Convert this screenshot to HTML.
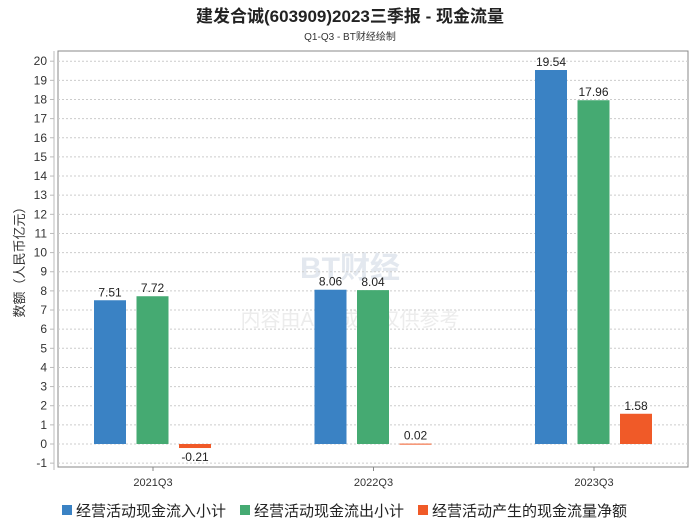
<!DOCTYPE html>
<html><head><meta charset="utf-8"><style>
body{margin:0;background:#fff;font-family:"Liberation Sans","Noto Sans CJK SC",sans-serif;}
</style></head><body>
<svg width="700" height="524" xmlns="http://www.w3.org/2000/svg" id="chart" font-family="Liberation Sans, Noto Sans CJK SC, sans-serif">
<text x="350" y="22" text-anchor="middle" font-size="17" font-weight="bold" fill="#222">建发合诚(603909)2023三季报 - 现金流量</text>
<text x="350" y="40" text-anchor="middle" font-size="10" fill="#333">Q1-Q3 - BT财经绘制</text>
<text x="350" y="278" text-anchor="middle" font-size="30" font-weight="bold" fill="#e3e8ef">BT财经</text>
<text x="350" y="326" text-anchor="middle" font-size="20" fill="#ececec">内容由AI生成，仅供参考</text>
<rect x="58" y="51" width="630" height="416" fill="none" stroke="#888"/>
<line x1="54" y1="51" x2="54" y2="470" stroke="#bbb"/>
<g id="grid"></g><g id="bars"></g><g id="xlabels"></g>
<text transform="translate(24,259) rotate(-90)" text-anchor="middle" font-size="13" fill="#333">数额（人民币亿元）</text>
<g id="legend"></g>
</svg>
<script>
const categories=["2021Q3","2022Q3","2023Q3"];
const inflow=[7.51,8.06,19.54];
const outflow=[7.72,8.04,17.96];
const net=[-0.21,0.02,1.58];
const yTicks=[-1,0,1,2,3,4,5,6,7,8,9,10,11,12,13,14,15,16,17,18,19,20];
const seriesNames=["经营活动现金流入小计","经营活动现金流出小计","经营活动产生的现金流量净额"];
const colors=["#3a82c4","#45aa72","#f05a28"];
const NS="http://www.w3.org/2000/svg";
const y0=444,unit=19.14;
function Y(v){return y0-v*unit;}
function X(i){return 153+i*220.5;}
function mk(t,a,p){const e=document.createElementNS(NS,t);for(const k in a)e.setAttribute(k,a[k]);p.appendChild(e);return e;}
const grid=document.getElementById('grid');
yTicks.forEach(v=>{
 const l=mk('line',{x1:58,x2:688,y1:Y(v),y2:Y(v),stroke:'#ccc','stroke-dasharray':'2,2'},grid);
 
 
 const tk=mk('line',{x1:50,x2:54,y1:Y(v),y2:Y(v),stroke:'#bbb'},grid);
 
 
 const t=mk('text',{x:47,y:Y(v)+4,'text-anchor':'end','font-size':12,fill:'#333'},grid);
 t.textContent=v;
 
 
});
const bars=document.getElementById('bars');
const series=[inflow,outflow,net];
const offs=[-43,-0.5,42];
categories.forEach((c,i)=>{
 series.forEach((s,j)=>{
  const v=s[i],x=X(i)+offs[j]-16,top=Math.min(Y(v),y0),h=Math.max(Math.abs(Y(v)-y0),1);
  const r=mk('rect',{x:x,y:top,width:32,height:h,fill:colors[j]},bars);
  
  
  const ty=v>=0?Y(v)-4:Y(v)+13;
  const t=mk('text',{x:x+16,y:ty,'text-anchor':'middle','font-size':12,fill:'#222'},bars);
  t.textContent=v.toFixed(2);
  
  
 });
 const tk=mk('line',{x1:X(i),x2:X(i),y1:467,y2:471,stroke:'#888'},document.getElementById('xlabels'));
 
 
 const t=mk('text',{x:X(i),y:486,'text-anchor':'middle','font-size':11,fill:'#333'},document.getElementById('xlabels'));
 t.textContent=c;
 
 
});
const lg=document.getElementById('legend');
const lx=[62,240,418];
seriesNames.forEach((n,j)=>{
 const r=mk('rect',{x:lx[j],y:505,width:10,height:10,fill:colors[j]},lg);
 
 
 const t=mk('text',{x:lx[j]+14,y:516,'font-size':15,fill:'#222'},lg);
 t.textContent=n;
 
 
});
</script>
</body></html>
